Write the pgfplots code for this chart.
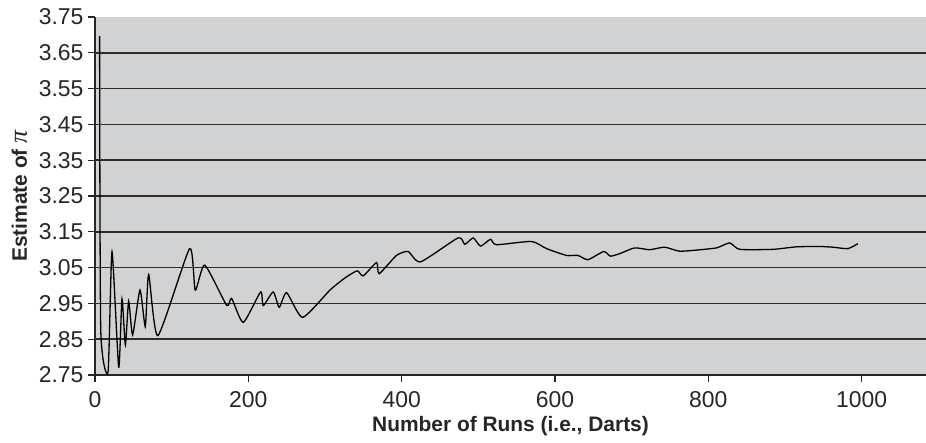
\documentclass[border=0pt]{standalone}
\usepackage{fontspec}
\setmainfont{Liberation Sans}
\newfontfamily\pifont{Liberation Serif}
\usepackage{pgfplots}
\pgfplotsset{compat=1.18}
\definecolor{bggray}{RGB}{209,210,212}
\definecolor{gridc}{RGB}{45,45,45}
\begin{document}
\begin{tikzpicture}
\begin{axis}[
  name=ax,
  scale only axis,
  width=831bp, height=358bp,
  xmin=0, xmax=1084,
  ymin=2.75, ymax=3.75,
  axis background/.style={fill=bggray},
  axis lines=left,
  axis line style={-, line width=1.3bp, color=black!85},
  xtick={0,200,...,1000},
  ytick={2.75,2.85,...,3.76},
  x tick label style={/pgf/number format/1000 sep={}, yshift=-6bp},
  y tick label style={/pgf/number format/fixed, /pgf/number format/fixed zerofill, /pgf/number format/precision=2, xshift=-1bp},
  tick align=outside,
  major tick length=7bp,
  tick style={line width=1.3bp, color=black!85},
  extra y ticks={2.85,2.95,3.05,3.15,3.25,3.35,3.45,3.55,3.65},
  extra y tick labels={},
  extra y tick style={ymajorgrids=true, major tick length=0pt},
  major grid style={line width=1.6bp, color=gridc},
  /pgf/number format/assume math mode=true,
  tick label style={font=\fontsize{23}{24}\selectfont, text=black!85},
  xlabel={\textbf{Number of Runs (i.e., Darts)}},
  ylabel={\textbf{Estimate of} {\pifont\itshape\fontsize{26}{26}\selectfont π}},
  label style={font=\fontsize{21}{24}\selectfont, text=black!85},
  xlabel style={yshift=-2bp},
  ylabel style={yshift=-2bp},
  clip=true,
]
\addplot[black, line width=1.3bp, smooth, tension=0.35] coordinates {
(6,3.697)
(7.5,2.876)
(17,2.758)
(22.2,3.094)
(30.9,2.772)
(35.2,2.962)
(39.6,2.834)
(43.9,2.956)
(49.1,2.862)
(58.7,2.987)
(65.6,2.885)
(70,3.031)
(82.1,2.860)
(123.4,3.103)
(130.8,2.987)
(143.2,3.057)
(171.7,2.945)
(178.2,2.964)
(193.4,2.897)
(216,2.982)
(219.5,2.944)
(232.5,2.982)
(240.3,2.939)
(250,2.980)
(270.8,2.911)
(306.4,2.987)
(326,3.021)
(342,3.041)
(349.9,3.027)
(367.3,3.064)
(370.7,3.033)
(393.3,3.084)
(408.5,3.095)
(424.6,3.066)
(473.7,3.133)
(482.4,3.115)
(493.3,3.133)
(502.9,3.110)
(515.9,3.129)
(523.7,3.114)
(569.4,3.123)
(589,3.103)
(615,3.084)
(630,3.084)
(643,3.072)
(663.6,3.095)
(672.4,3.082)
(684.5,3.089)
(704,3.105)
(723.6,3.100)
(743,3.107)
(761.8,3.096)
(780,3.098)
(810.6,3.105)
(827.9,3.119)
(841,3.101)
(884.4,3.101)
(914.9,3.108)
(945.3,3.109)
(962.6,3.107)
(982.2,3.103)
(995.2,3.117)
};
\end{axis}
\pgfresetboundingbox
\path[use as bounding box] ([xshift=-95bp,yshift=-68bp]ax.south west) rectangle ([yshift=17bp]ax.north east);
\end{tikzpicture}
\end{document}
